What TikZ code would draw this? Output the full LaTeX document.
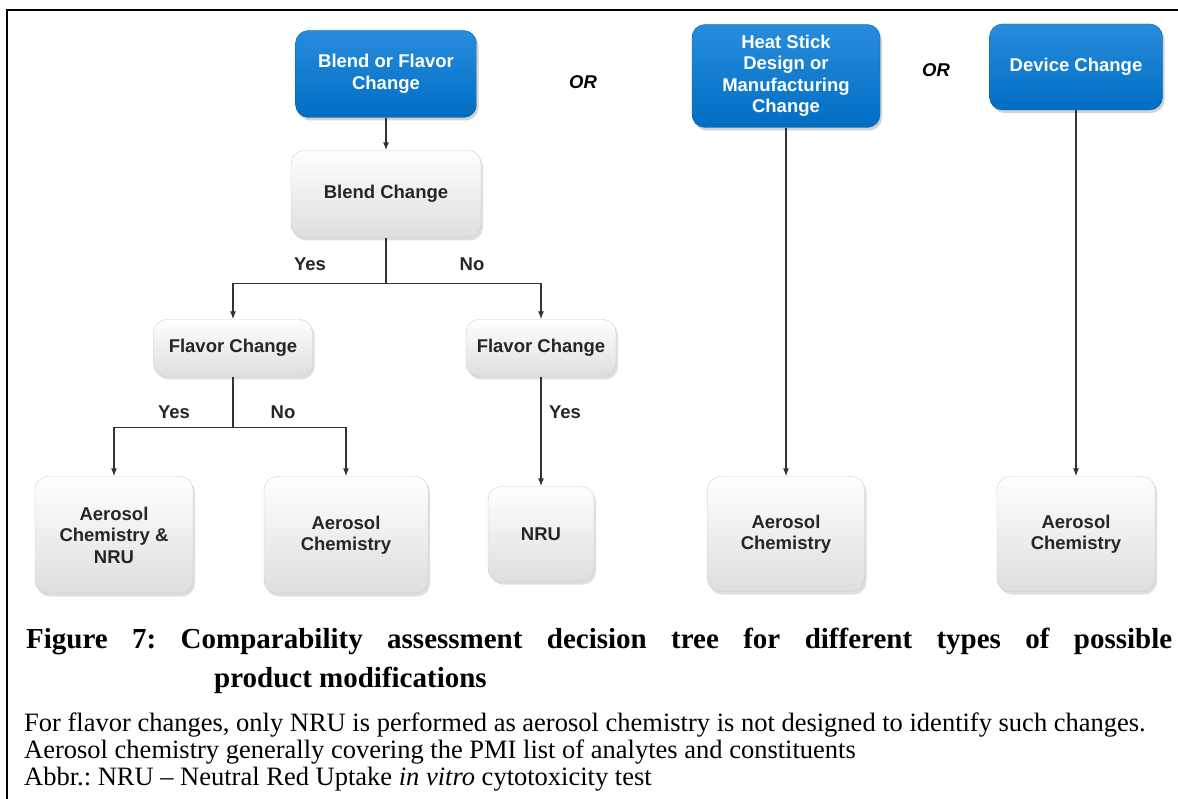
\documentclass[tikz,border=0pt]{standalone}
\usepackage{fontspec}
\setmainfont{Liberation Serif}
\setsansfont{Liberation Sans}
\usetikzlibrary{arrows.meta, shadows, positioning, calc}

\definecolor{chgblue}{RGB}{0,110,196}
\definecolor{chgtop}{RGB}{40,140,220}
\definecolor{resgrey}{RGB}{222,222,222}

\tikzset{
  chgbox/.style={rounded corners=13pt, draw=chgblue!85!black, top color=chgtop, bottom color=chgblue,
    text=white, align=center, inner sep=0pt, font=\sffamily\bfseries\fontsize{18.5}{21.5}\selectfont,
    drop shadow={opacity=0.35, shadow xshift=2pt, shadow yshift=-3pt}},
  resbox/.style={rounded corners=13pt, draw=gray!40, top color=white, bottom color=resgrey,
    text=black!85, align=center, inner sep=0pt, font=\sffamily\bfseries\fontsize{18.5}{21.5}\selectfont,
    drop shadow={opacity=0.25, shadow xshift=2pt, shadow yshift=-3pt}},
  lbl/.style={font=\sffamily\bfseries\fontsize{18.5}{21.5}\selectfont, inner sep=0pt, text=black!85},
  orlbl/.style={font=\sffamily\bfseries\itshape\fontsize{18.5}{21.5}\selectfont, inner sep=0pt},
  conn/.style={line width=1.2pt, black!80, -{Latex[length=8pt, width=6pt]}},
  capline/.style={anchor=base west, inner sep=0pt, font=\bfseries\fontsize{29}{33}\selectfont},
  noteline/.style={anchor=base west, inner sep=0pt, font=\fontsize{26.5}{29}\selectfont},
}

\begin{document}
\frenchspacing
\begin{tikzpicture}[x=1pt, y=-1pt]
  \useasboundingbox (0,0) rectangle (1178,799);
  \fill[white] (0,0) rectangle (1178,799);
  \draw[line width=2.5pt] (7,799) -- (7,10) -- (1178,10);

  % changes
  \node[chgbox, minimum width=181pt, minimum height=87pt] (bfc) at (386,74) {Blend or Flavor\\Change};
  \node[chgbox, minimum width=188pt, minimum height=103pt] (hsd) at (786,76) {Heat Stick\\Design or\\Manufacturing\\Change};
  \node[chgbox, minimum width=173pt, minimum height=86pt] (dev) at (1076,67) {Device Change};
  \node[orlbl] (or1) at (583,82) {OR};
  \node[orlbl] (or2) at (936,70) {OR};

  % decisions
  \node[resbox, minimum width=190pt, minimum height=87pt] (bc) at (386,194) {Blend Change};
  \node[resbox, minimum width=159pt, minimum height=57pt] (fcl) at (233,348) {Flavor Change};
  \node[resbox, minimum width=150pt, minimum height=57pt] (fcr) at (541,348) {Flavor Change};

  % results
  \node[resbox, minimum width=158pt, minimum height=117pt] (acn) at (114,535) {Aerosol\\Chemistry \&\\NRU};
  \node[resbox, minimum width=164pt, minimum height=117pt] (ac) at (346,535) {Aerosol\\Chemistry};
  \node[resbox, minimum width=106pt, minimum height=95pt] (nru) at (541,534) {NRU};
  \node[resbox, minimum width=157pt, minimum height=115pt] (ach) at (786,534) {Aerosol\\Chemistry};
  \node[resbox, minimum width=158pt, minimum height=115pt] (acd) at (1076,534) {Aerosol\\Chemistry};

  % connectors
  \draw[conn] (bfc) -- (bc);
  \draw[conn] (bc.south) -- ++(0,46) coordinate (bcj) -| (fcl.north);
  \draw[conn] (bcj) -| (fcr.north);
  \draw[conn] (fcl.south) -- ++(0,51) coordinate (fcj) -| (acn.north);
  \draw[conn] (fcj) -| (ac.north);
  \draw[conn] (fcr) -- (nru);
  \draw[conn] (hsd) -- (ach);
  \draw[conn] (dev) -- (acd);

  \node[lbl] (y1) at (310,264) {Yes};
  \node[lbl] (n1) at (472,264) {No};
  \node[lbl] (y2) at (174,412) {Yes};
  \node[lbl] (n2) at (283,412) {No};
  \node[lbl] (y3) at (565,412) {Yes};

  % caption
  \node[capline] (cap1) at (26,648)
    {\makebox[1146pt][s]{Figure 7: Comparability assessment decision tree for different types of possible}};
  \node[capline] (cap2) at (214,687) {product modifications};
  \node[noteline] (nt1) at (24,731)
    {For flavor changes, only NRU is performed as aerosol chemistry is not designed to identify such changes.};
  \node[noteline] (nt2) at (24,758)
    {Aerosol chemistry generally covering the PMI list of analytes and constituents};
  \node[noteline] (nt3) at (24,785)
    {Abbr.: NRU -- Neutral Red Uptake \textit{in vitro} cytotoxicity test};
\end{tikzpicture}
\end{document}
